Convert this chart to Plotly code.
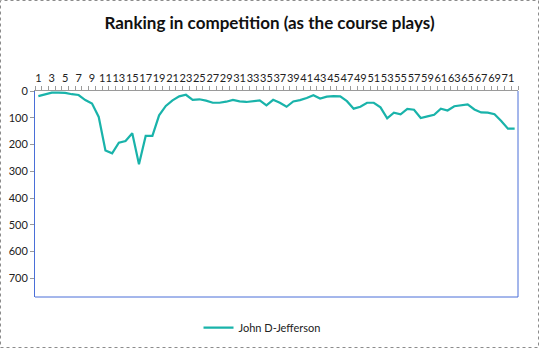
import plotly.graph_objects as go

# Ranking after each hole, as the course plays
holes = list(range(1, 73))
ranking = [19, 12, 6, 6, 7, 12, 15, 34, 47, 97,
           222, 233, 193, 187, 158, 274, 168, 168, 91, 56,
           35, 20, 14, 33, 31, 36, 44, 44, 40, 33,
           39, 41, 37, 35, 54, 33, 44, 59, 39, 34,
           26, 16, 28, 21, 19, 20, 38, 66, 59, 44,
           44, 61, 102, 81, 87, 67, 70, 101, 95, 89,
           66, 73, 57, 54, 50, 69, 80, 81, 87, 112,
           141, 141]
series_name = "John D-Jefferson"
x_tick_labels = [str(h) for h in holes[::2]]
y_tick_values = [0, 100, 200, 300, 400, 500, 600, 700]

W, H = 539, 348
ML, MR, MT, MB = 35, 21, 91, 51
pw, ph = W - ML - MR, H - MT - MB

fig = go.Figure()
fig.add_trace(go.Scatter(
    x=holes, y=ranking, mode="lines", name=series_name,
    line=dict(color="#19B3AA", width=2.2),
))

font_family = "Lato, Carlito, 'Open Sans', sans-serif"

fig.update_layout(
    width=W, height=H,
    margin=dict(l=ML, r=MR, t=MT, b=MB, autoexpand=False),
    paper_bgcolor="white", plot_bgcolor="white",
    font=dict(family=font_family, size=11, color="#222222"),
    title=dict(text="<b>Ranking in competition (as the course plays)</b>",
               x=0.5, xanchor="center", y=1 - 23 / H, yanchor="middle",
               font=dict(family=font_family, size=17, color="#111111")),
    showlegend=True,
    legend=dict(orientation="h", x=0.47, xanchor="center", y=-0.078, yanchor="top",
                font=dict(size=11, color="#222222"), bgcolor="rgba(0,0,0,0)"),
    xaxis=dict(
        side="top", range=[0.5, 72.5], showgrid=False, zeroline=False,
        tickmode="array", tickvals=holes[::2], ticktext=x_tick_labels,
        tickangle=0, automargin=False,
        ticks="", tickfont=dict(size=11), ticklabelstandoff=4,
        showline=True, linecolor="#9a9a9a", linewidth=1,
        minor=dict(tickmode="linear", tick0=0.5, dtick=1, ticks="outside",
                   ticklen=4, tickcolor="#9a9a9a", showgrid=False),
    ),
    yaxis=dict(
        range=[770, 0], showgrid=False, zeroline=False, automargin=False,
        tickmode="array", tickvals=y_tick_values, ticks="outside",
        ticklen=4, tickcolor="#9a9a9a", tickfont=dict(size=11),
        showline=True, linecolor="#4a6fd8", linewidth=1,
    ),
)

# Plot area border (right and bottom edges)
fig.add_shape(type="line", xref="paper", yref="paper", x0=1, x1=1, y0=0, y1=1,
              line=dict(color="#4a6fd8", width=1))
fig.add_shape(type="line", xref="paper", yref="paper", x0=0, x1=1, y0=0, y1=0,
              line=dict(color="#4a6fd8", width=1))

# Dashed chart-area frame
fig.add_shape(type="rect", xref="paper", yref="paper",
              x0=(0.5 - ML) / pw, x1=(W - 0.5 - ML) / pw,
              y0=(MT + ph - (H - 0.5)) / ph, y1=(MT + ph - 0.5) / ph,
              line=dict(color="#8c8c8c", width=1, dash="dot"))

fig.write_html("out.html")
